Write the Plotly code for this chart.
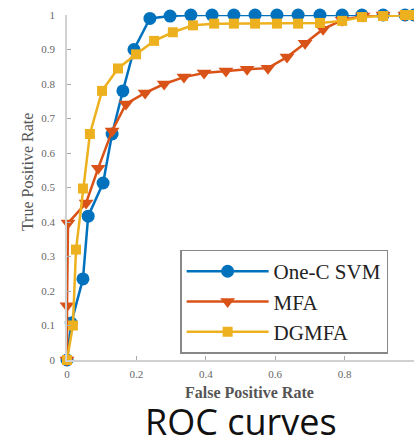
import plotly.graph_objects as go

# One-C SVM
svm_fpr = [0.0, 0.012, 0.046, 0.061, 0.104, 0.13, 0.161, 0.193, 0.239, 0.297, 0.357, 0.418, 0.481, 0.542, 0.605, 0.666, 0.729, 0.793, 0.85, 0.911, 0.974, 1.0]
svm_tpr = [0.0, 0.107, 0.235, 0.417, 0.513, 0.655, 0.78, 0.90, 0.99, 0.997, 1.0, 1.0, 1.0, 1.0, 1.0, 1.0, 1.0, 1.0, 1.0, 1.0, 1.0, 1.0]

# MFA
mfa_fpr = [0.0, 0.0, 0.003, 0.055, 0.09, 0.13, 0.17, 0.225, 0.28, 0.337, 0.395, 0.458, 0.519, 0.579, 0.634, 0.686, 0.738, 0.793, 0.853, 0.911, 0.974, 1.0]
mfa_tpr = [0.0, 0.157, 0.397, 0.455, 0.556, 0.664, 0.742, 0.774, 0.80, 0.82, 0.832, 0.838, 0.843, 0.846, 0.878, 0.918, 0.959, 0.985, 0.997, 1.0, 1.0, 1.0]

# DGMFA
dg_fpr = [0.0, 0.017, 0.026, 0.046, 0.066, 0.101, 0.147, 0.199, 0.251, 0.305, 0.363, 0.424, 0.481, 0.542, 0.605, 0.666, 0.729, 0.793, 0.85, 0.911, 0.974, 1.0]
dg_tpr = [0.0, 0.10, 0.32, 0.497, 0.655, 0.78, 0.845, 0.886, 0.925, 0.95, 0.97, 0.975, 0.975, 0.975, 0.975, 0.975, 0.977, 0.983, 0.994, 0.997, 1.0, 1.0]

x_ticks = [0, 0.2, 0.4, 0.6, 0.8, 1]
x_tick_text = ["0", "0.2", "0.4", "0.6", "0.8", "1"]
y_ticks = [0, 0.1, 0.2, 0.3, 0.4, 0.5, 0.6, 0.7, 0.8, 0.9, 1]
y_tick_text = ["0", "0.1", "0.2", "0.3", "0.4", "0.5", "0.6", "0.7", "0.8", "0.9", "1"]

C_BLUE = "#0072BD"
C_ORANGE = "#D95319"
C_YELLOW = "#EDB120"

fig = go.Figure()
fig.add_trace(go.Scatter(x=svm_fpr, y=svm_tpr, mode="lines+markers", name="One-C SVM",
                         line=dict(color=C_BLUE, width=2.5),
                         marker=dict(symbol="circle", size=13, color=C_BLUE)))
fig.add_trace(go.Scatter(x=mfa_fpr, y=mfa_tpr, mode="lines+markers", name="MFA",
                         line=dict(color=C_ORANGE, width=2.5),
                         marker=dict(symbol="triangle-down", size=13, color=C_ORANGE)))
fig.add_trace(go.Scatter(x=dg_fpr, y=dg_tpr, mode="lines+markers", name="DGMFA",
                         line=dict(color=C_YELLOW, width=2.5),
                         marker=dict(symbol="square", size=10, color=C_YELLOW)))

axis_common = dict(showgrid=False, zeroline=False, showline=True, linecolor="#d0d0d0", linewidth=1.5,
                   ticks="inside", ticklen=4, tickcolor="#aaaaaa",
                   tickfont=dict(family="Liberation Serif", size=11, color="#666666"))

fig.update_layout(
    width=414, height=437,
    margin=dict(l=67, r=0, t=15, b=77),
    plot_bgcolor="white", paper_bgcolor="white",
    xaxis=dict(range=[0, 1], tickvals=x_ticks, ticktext=x_tick_text, ticklabelstandoff=3,
               **axis_common),
    yaxis=dict(range=[0, 1], tickvals=y_ticks, ticktext=y_tick_text, ticklabelstandoff=8,
               **axis_common),
    legend=dict(x=0.326, y=0.32, xanchor="left", yanchor="top",
                bgcolor="white", bordercolor="#888888", borderwidth=1.5,
                font=dict(family="Liberation Serif", size=21, color="#222222"),
                tracegroupgap=0, itemwidth=82),
    showlegend=True,
    annotations=[
        dict(text="False Positive Rate", xref="paper", yref="paper", x=0.527, y=-0.094,
             xanchor="center", yanchor="middle", showarrow=False,
             font=dict(family="Liberation Serif", size=16, color="#555555", weight="bold")),
        dict(text="True Positive Rate", xref="paper", yref="paper", x=-0.112, y=0.545,
             xanchor="center", yanchor="middle", showarrow=False, textangle=-90,
             font=dict(family="Liberation Serif", size=16, color="#555555")),
        dict(text="ROC curves", xref="paper", yref="paper", x=0.5, y=-0.177,
             xanchor="center", yanchor="middle", showarrow=False,
             font=dict(family="Open Sans", size=36, color="#111111")),
    ],
)
for tr in fig.data:
    tr.cliponaxis = False

fig.write_html("out.html")
